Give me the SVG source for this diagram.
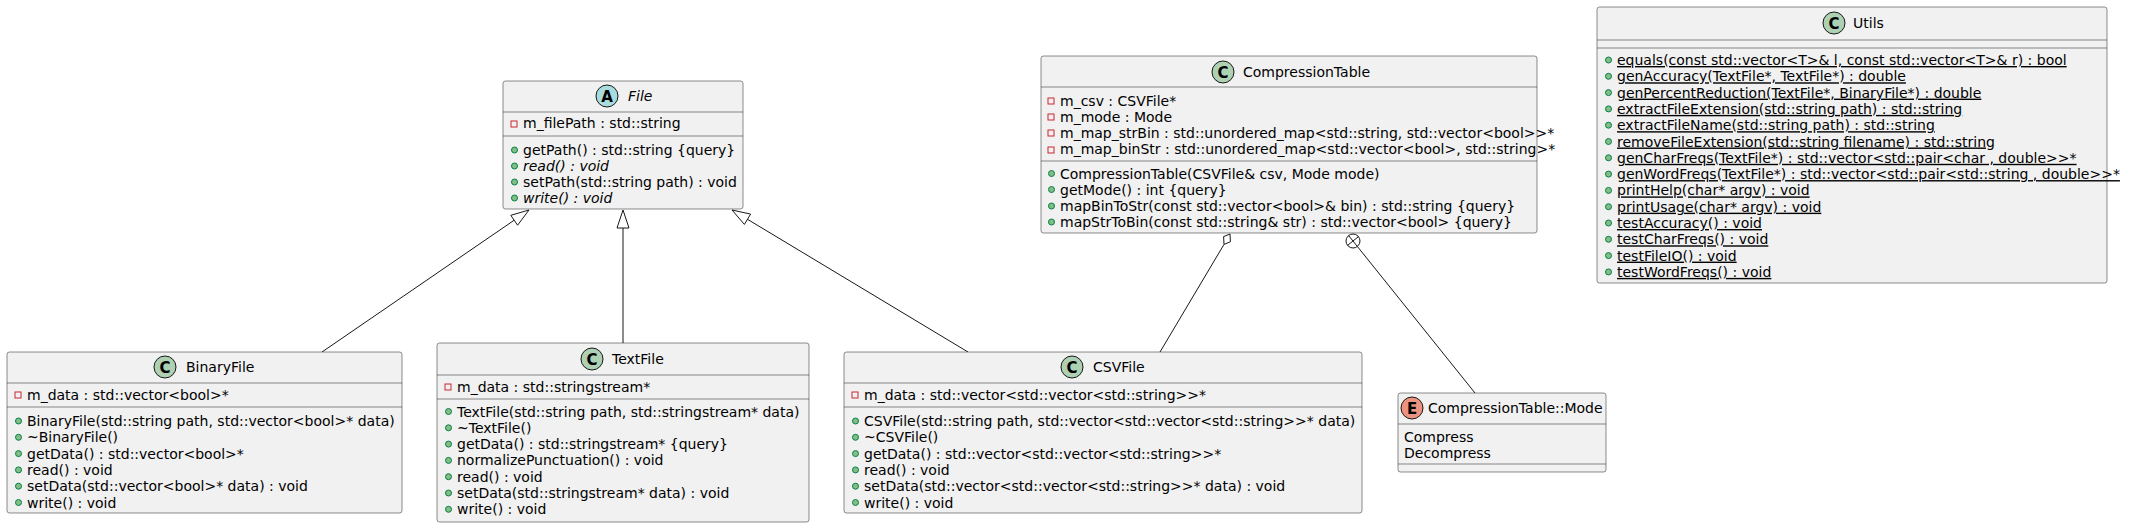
<svg xmlns="http://www.w3.org/2000/svg" width="2138" height="527" viewBox="0 0 2138 527">
<style>
text{font-family:"DejaVu Sans","Liberation Sans",sans-serif;font-size:14px;fill:#000}
.box{fill:#F1F1F1;stroke:#181818;stroke-width:0.5}
.sep{stroke:#181818;stroke-width:0.5}
.cc{fill:#ADD1B2;stroke:#181818;stroke-width:1}
.ca{fill:#A9DCDF;stroke:#181818;stroke-width:1}
.ce{fill:#EB937F;stroke:#181818;stroke-width:1}
.lt{font-weight:bold;font-size:15px;text-anchor:middle}
.pub{fill:#84BE84;stroke:#038048;stroke-width:1}
.priv{fill:none;stroke:#C82930;stroke-width:1}
.it{font-style:italic}
.u{text-decoration:underline}
.ln{stroke:#181818;stroke-width:1;fill:none}
.hd{fill:#FFFFFF;stroke:#181818;stroke-width:1}
</style>
<defs>
<circle id="pb" r="3" class="pub"/>
<rect id="pv" width="6" height="6" class="priv"/>
</defs>

<g id="connectors">
<line class="ln" x1="322" y1="352" x2="514.2" y2="220.2"/>
<polygon class="hd" points="529,210 517.6,225.2 510.8,215.3"/>
<line class="ln" x1="623" y1="343" x2="623" y2="228"/>
<polygon class="hd" points="623,210 629,228 617,228"/>
<line class="ln" x1="968" y1="352" x2="747.5" y2="219.3"/>
<polygon class="hd" points="732,210 744.4,224.4 750.6,214.1"/>
<line class="ln" x1="1160" y1="352" x2="1224" y2="244.4"/>
<polygon class="hd" points="1230,234 1230.4,241.8 1224,244.4 1223.6,236.6"/>
<line class="ln" x1="1475" y1="393" x2="1357.4" y2="246.5"/>
<circle cx="1353" cy="241" r="7" class="hd"/>
<line class="ln" x1="1348.6" y1="235.5" x2="1357.4" y2="246.5"/>
<line class="ln" x1="1347.5" y1="245.4" x2="1358.5" y2="236.6"/>
</g>

<g id="File">
<rect class="box" x="503" y="81" width="240" height="128" rx="2.5"/>
<circle class="ca" cx="607" cy="96" r="11"/>
<text class="lt" x="607" y="101.5">A</text>
<text class="it" x="628" y="101">File</text>
<line class="sep" x1="503" y1="112" x2="743" y2="112"/>
<use href="#pv" x="511" y="121"/>
<text x="523" y="128">m_filePath : std::string</text>
<line class="sep" x1="503" y1="136" x2="743" y2="136"/>
<use href="#pb" x="514.5" y="150"/>
<text x="523" y="155">getPath() : std::string {query}</text>
<use href="#pb" x="514.5" y="166"/>
<text class="it" x="523" y="171">read() : void</text>
<use href="#pb" x="514.5" y="182"/>
<text x="523" y="187">setPath(std::string path) : void</text>
<use href="#pb" x="514.5" y="198"/>
<text class="it" x="523" y="203">write() : void</text>
</g>

<g id="CompressionTable">
<rect class="box" x="1041" y="56" width="496" height="177" rx="2.5"/>
<circle class="cc" cx="1223" cy="72" r="11"/>
<text class="lt" x="1223" y="77.5">C</text>
<text x="1243" y="77">CompressionTable</text>
<line class="sep" x1="1041" y1="87" x2="1537" y2="87"/>
<use href="#pv" x="1048" y="98"/>
<text x="1060" y="105.5">m_csv : CSVFile*</text>
<use href="#pv" x="1048" y="114"/>
<text x="1060" y="121.5">m_mode : Mode</text>
<use href="#pv" x="1048" y="130"/>
<text x="1060" y="137.5">m_map_strBin : std::unordered_map&lt;std::string, std::vector&lt;bool&gt;&gt;*</text>
<use href="#pv" x="1048" y="147"/>
<text x="1060" y="154">m_map_binStr : std::unordered_map&lt;std::vector&lt;bool&gt;, std::string&gt;*</text>
<line class="sep" x1="1041" y1="161" x2="1537" y2="161"/>
<use href="#pb" x="1051.5" y="173.5"/>
<text x="1060" y="178.5">CompressionTable(CSVFile&amp; csv, Mode mode)</text>
<use href="#pb" x="1051.5" y="189.5"/>
<text x="1060" y="194.5">getMode() : int {query}</text>
<use href="#pb" x="1051.5" y="206"/>
<text x="1060" y="211">mapBinToStr(const std::vector&lt;bool&gt;&amp; bin) : std::string {query}</text>
<use href="#pb" x="1051.5" y="222"/>
<text x="1060" y="227">mapStrToBin(const std::string&amp; str) : std::vector&lt;bool&gt; {query}</text>
</g>

<g id="Utils">
<rect class="box" x="1597" y="7" width="510" height="276" rx="2.5"/>
<circle class="cc" cx="1834" cy="23" r="11"/>
<text class="lt" x="1834" y="28.5">C</text>
<text x="1853" y="28">Utils</text>
<line class="sep" x1="1597" y1="40" x2="2107" y2="40"/>
<line class="sep" x1="1597" y1="48" x2="2107" y2="48"/>
<use href="#pb" x="1608.5" y="60"/>
<text class="u" x="1617" y="65">equals(const std::vector&lt;T&gt;&amp; l, const std::vector&lt;T&gt;&amp; r) : bool</text>
<use href="#pb" x="1608.5" y="76.3"/>
<text class="u" x="1617" y="81.3">genAccuracy(TextFile*, TextFile*) : double</text>
<use href="#pb" x="1608.5" y="92.6"/>
<text class="u" x="1617" y="97.6">genPercentReduction(TextFile*, BinaryFile*) : double</text>
<use href="#pb" x="1608.5" y="108.9"/>
<text class="u" x="1617" y="113.9">extractFileExtension(std::string path) : std::string</text>
<use href="#pb" x="1608.5" y="125.2"/>
<text class="u" x="1617" y="130.2">extractFileName(std::string path) : std::string</text>
<use href="#pb" x="1608.5" y="141.5"/>
<text class="u" x="1617" y="146.5">removeFileExtension(std::string filename) : std::string</text>
<use href="#pb" x="1608.5" y="157.8"/>
<text class="u" x="1617" y="162.8">genCharFreqs(TextFile*) : std::vector&lt;std::pair&lt;char , double&gt;&gt;*</text>
<use href="#pb" x="1608.5" y="174.1"/>
<text class="u" x="1617" y="179.1">genWordFreqs(TextFile*) : std::vector&lt;std::pair&lt;std::string , double&gt;&gt;*</text>
<use href="#pb" x="1608.5" y="190.4"/>
<text class="u" x="1617" y="195.4">printHelp(char* argv) : void</text>
<use href="#pb" x="1608.5" y="206.7"/>
<text class="u" x="1617" y="211.7">printUsage(char* argv) : void</text>
<use href="#pb" x="1608.5" y="223"/>
<text class="u" x="1617" y="228">testAccuracy() : void</text>
<use href="#pb" x="1608.5" y="239.3"/>
<text class="u" x="1617" y="244.3">testCharFreqs() : void</text>
<use href="#pb" x="1608.5" y="255.6"/>
<text class="u" x="1617" y="260.6">testFileIO() : void</text>
<use href="#pb" x="1608.5" y="271.9"/>
<text class="u" x="1617" y="276.9">testWordFreqs() : void</text>
</g>

<g id="BinaryFile">
<rect class="box" x="7" y="352" width="395" height="161" rx="2.5"/>
<circle class="cc" cx="165" cy="367" r="11"/>
<text class="lt" x="165" y="372.5">C</text>
<text x="186" y="372">BinaryFile</text>
<line class="sep" x1="7" y1="383" x2="402" y2="383"/>
<use href="#pv" x="15" y="392"/>
<text x="27" y="400">m_data : std::vector&lt;bool&gt;*</text>
<line class="sep" x1="7" y1="407" x2="402" y2="407"/>
<use href="#pb" x="18.5" y="421"/>
<text x="27" y="426">BinaryFile(std::string path, std::vector&lt;bool&gt;* data)</text>
<use href="#pb" x="18.5" y="437.3"/>
<text x="27" y="442.3">~BinaryFile()</text>
<use href="#pb" x="18.5" y="453.6"/>
<text x="27" y="458.6">getData() : std::vector&lt;bool&gt;*</text>
<use href="#pb" x="18.5" y="469.9"/>
<text x="27" y="474.9">read() : void</text>
<use href="#pb" x="18.5" y="486.2"/>
<text x="27" y="491.2">setData(std::vector&lt;bool&gt;* data) : void</text>
<use href="#pb" x="18.5" y="502.5"/>
<text x="27" y="507.5">write() : void</text>
</g>

<g id="TextFile">
<rect class="box" x="437" y="343" width="372" height="179" rx="2.5"/>
<circle class="cc" cx="592" cy="359" r="11"/>
<text class="lt" x="592" y="364.5">C</text>
<text x="612" y="364">TextFile</text>
<line class="sep" x1="437" y1="375" x2="809" y2="375"/>
<use href="#pv" x="445" y="384"/>
<text x="457" y="392">m_data : std::stringstream*</text>
<line class="sep" x1="437" y1="399" x2="809" y2="399"/>
<use href="#pb" x="448.5" y="411.5"/>
<text x="457" y="416.5">TextFile(std::string path, std::stringstream* data)</text>
<use href="#pb" x="448.5" y="427.8"/>
<text x="457" y="432.8">~TextFile()</text>
<use href="#pb" x="448.5" y="444.1"/>
<text x="457" y="449.1">getData() : std::stringstream* {query}</text>
<use href="#pb" x="448.5" y="460.4"/>
<text x="457" y="465.4">normalizePunctuation() : void</text>
<use href="#pb" x="448.5" y="476.7"/>
<text x="457" y="481.7">read() : void</text>
<use href="#pb" x="448.5" y="493"/>
<text x="457" y="498">setData(std::stringstream* data) : void</text>
<use href="#pb" x="448.5" y="509.3"/>
<text x="457" y="514.3">write() : void</text>
</g>

<g id="CSVFile">
<rect class="box" x="844" y="352" width="518" height="161" rx="2.5"/>
<circle class="cc" cx="1072" cy="367" r="11"/>
<text class="lt" x="1072" y="372.5">C</text>
<text x="1093" y="372">CSVFile</text>
<line class="sep" x1="844" y1="383" x2="1362" y2="383"/>
<use href="#pv" x="852" y="392"/>
<text x="864" y="400">m_data : std::vector&lt;std::vector&lt;std::string&gt;&gt;*</text>
<line class="sep" x1="844" y1="407" x2="1362" y2="407"/>
<use href="#pb" x="855.5" y="421"/>
<text x="864" y="426">CSVFile(std::string path, std::vector&lt;std::vector&lt;std::string&gt;&gt;* data)</text>
<use href="#pb" x="855.5" y="437.3"/>
<text x="864" y="442.3">~CSVFile()</text>
<use href="#pb" x="855.5" y="453.6"/>
<text x="864" y="458.6">getData() : std::vector&lt;std::vector&lt;std::string&gt;&gt;*</text>
<use href="#pb" x="855.5" y="469.9"/>
<text x="864" y="474.9">read() : void</text>
<use href="#pb" x="855.5" y="486.2"/>
<text x="864" y="491.2">setData(std::vector&lt;std::vector&lt;std::string&gt;&gt;* data) : void</text>
<use href="#pb" x="855.5" y="502.5"/>
<text x="864" y="507.5">write() : void</text>
</g>

<g id="CompressionTable_Mode">
<rect class="box" x="1398" y="393" width="208" height="79" rx="2.5"/>
<circle class="ce" cx="1412" cy="408" r="11"/>
<text class="lt" x="1412" y="413.5">E</text>
<text x="1428" y="413">CompressionTable::Mode</text>
<line class="sep" x1="1398" y1="424" x2="1606" y2="424"/>
<text x="1404" y="441.5">Compress</text>
<text x="1404" y="457.5">Decompress</text>
<line class="sep" x1="1398" y1="464" x2="1606" y2="464"/>
</g>
</svg>
